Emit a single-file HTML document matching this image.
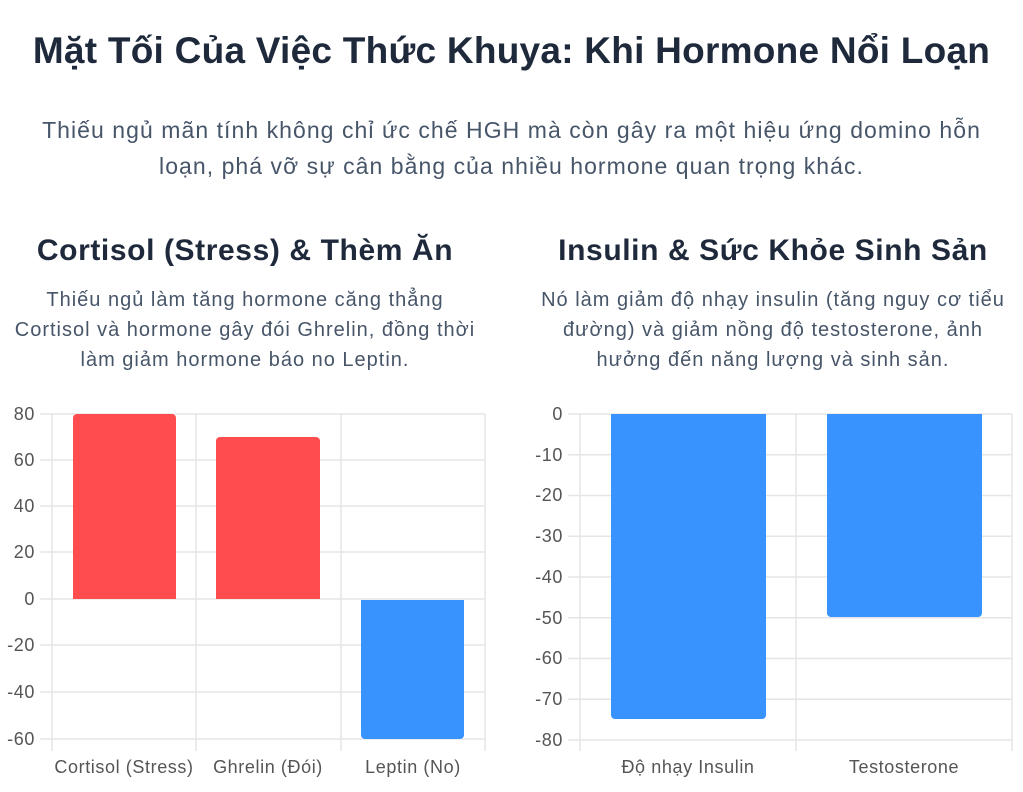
<!DOCTYPE html>
<html><head><meta charset="utf-8"><style>
body{margin:0;width:1023px;height:792px;background:#fff;font-family:"Liberation Sans","DejaVu Sans",sans-serif;color:#1e293b;overflow:hidden;position:relative}
.t{position:absolute;left:0;width:1023px;text-align:center}
h1{position:absolute;left:0;width:1023px;text-align:center;margin:0;top:30px;font-size:37px;letter-spacing:0.25px;font-weight:bold;color:#1e293b}
.p{top:112px;font-size:23px;letter-spacing:1.05px;line-height:36px;color:#475569}
.h2{position:absolute;font-size:30px;letter-spacing:0.6px;font-weight:bold;top:234px;text-align:center}
.d{position:absolute;font-size:20px;letter-spacing:1.0px;line-height:30px;color:#475569;text-align:center;top:285px}
svg{position:absolute;left:0;top:0}
svg text{font-family:"Liberation Sans","DejaVu Sans",sans-serif;font-size:18px;letter-spacing:0.6px;fill:#555}
</style></head><body>
<h1>Mặt Tối Của Việc Thức Khuya: Khi Hormone Nổi Loạn</h1>
<div class="t p">Thiếu ngủ mãn tính không chỉ ức chế HGH mà còn gây ra một hiệu ứng domino hỗn<br>loạn, phá vỡ sự cân bằng của nhiều hormone quan trọng khác.</div>
<div class="h2" style="left:0;width:490px">Cortisol (Stress) &amp; Thèm Ăn</div>
<div class="h2" style="left:528px;width:490px">Insulin &amp; Sức Khỏe Sinh Sản</div>
<div class="d" style="left:-20px;width:530px">Thiếu ngủ làm tăng hormone căng thẳng<br>Cortisol và hormone gây đói Ghrelin, đồng thời<br>làm giảm hormone báo no Leptin.</div>
<div class="d" style="left:508px;width:530px">Nó làm giảm độ nhạy insulin (tăng nguy cơ tiểu<br>đường) và giảm nồng độ testosterone, ảnh<br>hưởng đến năng lượng và sinh sản.</div>
<svg width="1023" height="792">
<g stroke="#e5e5e5" stroke-width="1.5">
<line x1="40" x2="485" y1="414" y2="414"/><line x1="40" x2="485" y1="460" y2="460"/><line x1="40" x2="485" y1="506" y2="506"/><line x1="40" x2="485" y1="552" y2="552"/><line x1="40" x2="485" y1="599" y2="599"/><line x1="40" x2="485" y1="645" y2="645"/><line x1="40" x2="485" y1="692" y2="692"/><line x1="40" x2="485" y1="739" y2="739"/>
<line x1="52" x2="52" y1="414" y2="751"/><line x1="196" x2="196" y1="414" y2="751"/><line x1="341" x2="341" y1="414" y2="751"/><line x1="485" x2="485" y1="414" y2="751"/>
<line x1="568" x2="1012" y1="414" y2="414"/><line x1="568" x2="1012" y1="454.75" y2="454.75"/><line x1="568" x2="1012" y1="495.5" y2="495.5"/><line x1="568" x2="1012" y1="536.25" y2="536.25"/><line x1="568" x2="1012" y1="577" y2="577"/><line x1="568" x2="1012" y1="617.75" y2="617.75"/><line x1="568" x2="1012" y1="658.5" y2="658.5"/><line x1="568" x2="1012" y1="699.25" y2="699.25"/><line x1="568" x2="1012" y1="740" y2="740"/>
<line x1="580" x2="580" y1="414" y2="751"/><line x1="796" x2="796" y1="414" y2="751"/><line x1="1012" x2="1012" y1="414" y2="751"/>
</g>
<path d="M73 599V418a4 4 0 0 1 4-4h95a4 4 0 0 1 4 4V599Z" fill="#ff4d4f"/>
<path d="M216 599V441a4 4 0 0 1 4-4h96a4 4 0 0 1 4 4V599Z" fill="#ff4d4f"/>
<path d="M361 600V735a4 4 0 0 0 4 4h95a4 4 0 0 0 4-4V600Z" fill="#3893ff"/>
<path d="M611 414V715a4 4 0 0 0 4 4h147a4 4 0 0 0 4-4V414Z" fill="#3893ff"/>
<path d="M827 414V613a4 4 0 0 0 4 4h147a4 4 0 0 0 4-4V414Z" fill="#3893ff"/>
<g text-anchor="end">
<text x="35" y="420">80</text><text x="35" y="466">60</text><text x="35" y="512">40</text><text x="35" y="558">20</text><text x="35" y="605">0</text><text x="35" y="651">-20</text><text x="35" y="698">-40</text><text x="35" y="745">-60</text>
<text x="563" y="420">0</text><text x="563" y="461">-10</text><text x="563" y="501">-20</text><text x="563" y="542">-30</text><text x="563" y="583">-40</text><text x="563" y="624">-50</text><text x="563" y="664">-60</text><text x="563" y="705">-70</text><text x="563" y="746">-80</text>
</g>
<g text-anchor="middle">
<text x="124" y="773">Cortisol (Stress)</text><text x="268" y="773">Ghrelin (Đói)</text><text x="413" y="773">Leptin (No)</text>
<text x="688" y="773">Độ nhạy Insulin</text><text x="904" y="773">Testosterone</text>
</g>
</svg>
</body></html>
